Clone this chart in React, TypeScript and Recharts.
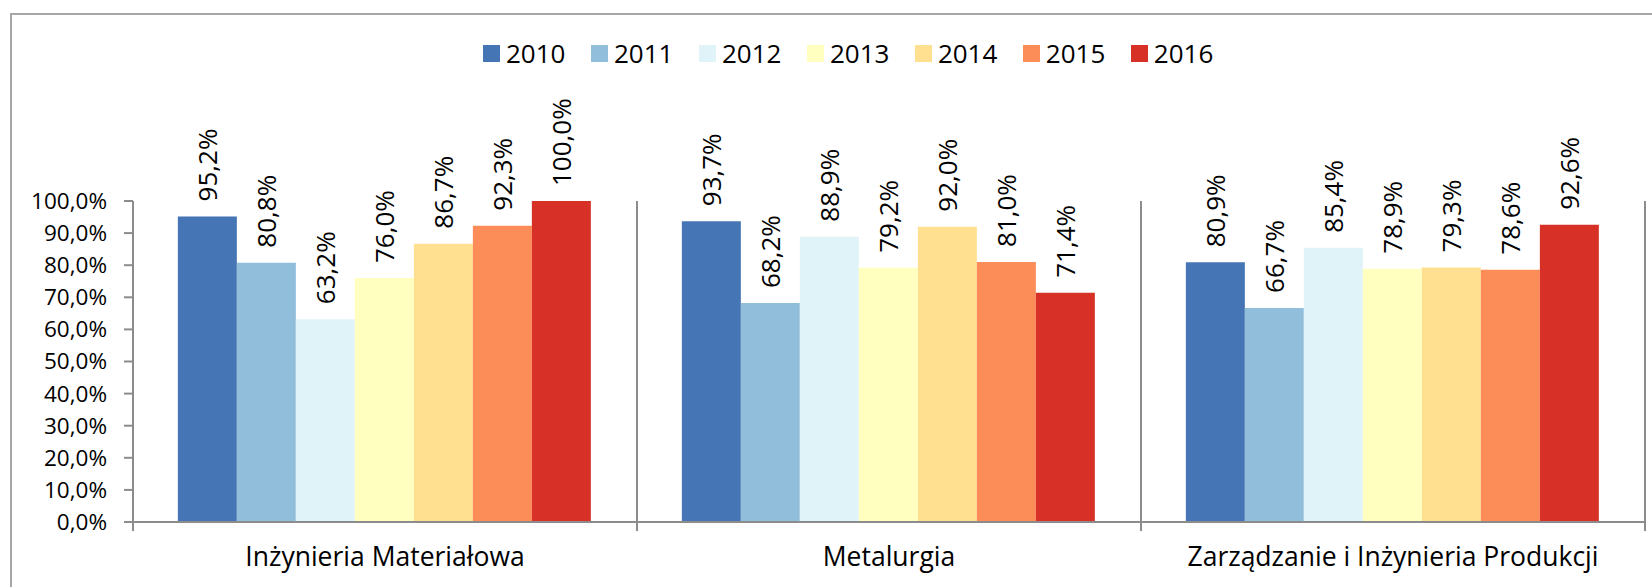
import React from 'react';
import { BarChart, Bar, XAxis, YAxis, CartesianGrid, LabelList } from 'recharts';

const categories = ['Inżynieria Materiałowa', 'Metalurgia', 'Zarządzanie i Inżynieria Produkcji'];
const years = ['2010', '2011', '2012', '2013', '2014', '2015', '2016'];
const colors = ['#4575b4', '#91bfdb', '#e0f3f8', '#ffffbf', '#fee090', '#fc8d59', '#d73027'];

// values per year, one entry per category (percent)
const s2010 = [95.2, 93.7, 80.9];
const s2011 = [80.8, 68.2, 66.7];
const s2012 = [63.2, 88.9, 85.4];
const s2013 = [76.0, 79.2, 78.9];
const s2014 = [86.7, 92.0, 79.3];
const s2015 = [92.3, 81.0, 78.6];
const s2016 = [100.0, 71.4, 92.6];
const series = [s2010, s2011, s2012, s2013, s2014, s2015, s2016];

const yTicks = [0, 10, 20, 30, 40, 50, 60, 70, 80, 90, 100];

const data = categories.map((name, i) => {
  const row: Record<string, string | number> = { name };
  years.forEach((y, j) => {
    row[y] = series[j][i];
  });
  return row;
});

const FONT = '"Open Sans", sans-serif';
const AXIS = '#8c8c8c';
const TICK = 9;

const pct = (v: number) => `${v.toFixed(1).replace('.', ',')}%`;

function CategoryTick(props: any) {
  const { x, y, payload, index, visibleTicksCount } = props;
  const half = payload?.offset ?? 252;
  const axisY = y - TICK;
  return (
    <g>
      <line x1={x - half} x2={x - half} y1={axisY} y2={y} stroke={AXIS} strokeWidth={2} />
      {index === visibleTicksCount - 1 && (
        <line x1={x + half} x2={x + half} y1={axisY} y2={y} stroke={AXIS} strokeWidth={2} />
      )}
      <text x={x} y={y + 35} textAnchor="middle" fill="#000" fontSize={26.5} fontFamily={FONT}>
        {payload.value}
      </text>
    </g>
  );
}

function RotatedLabel(props: any) {
  const { x, y, width, value } = props;
  const cx = x + width / 2;
  return (
    <text
      transform={`translate(${cx}, ${y - 15}) rotate(-90)`}
      dy="0.36em"
      textAnchor="start"
      fill="#000"
      fontSize={26}
      fontFamily={FONT}
    >
      {pct(value)}
    </text>
  );
}

export default function App() {
  return (
    <div
      style={{
        position: 'fixed',
        left: 0,
        top: 0,
        width: 1652,
        height: 587,
        overflow: 'hidden',
        background: '#fff',
        fontFamily: FONT,
      }}
    >
      <div
        style={{
          position: 'absolute',
          left: 10,
          top: 13,
          width: 1700,
          height: 700,
          border: '2px solid #a6a6a6',
        }}
      />

      {/* Legend */}
      <div style={{ position: 'absolute', left: 483, top: 40, display: 'flex', alignItems: 'center' }}>
        {years.map((y, i) => (
          <div key={y} style={{ display: 'flex', alignItems: 'center', marginRight: 25.5 }}>
            <div style={{ width: 17, height: 17, background: colors[i], marginRight: 6 }} />
            <span style={{ fontSize: 26, lineHeight: '26px', color: '#000' }}>{y}</span>
          </div>
        ))}
      </div>

      <div style={{ position: 'absolute', left: 0, top: 0 }}>
        <BarChart
          width={1652}
          height={587}
          data={data}
          margin={{ top: 201, right: 7, bottom: 15, left: 8 }}
          barCategoryGap="8.9%"
          barGap={0}
        >
          <CartesianGrid
            horizontal={false}
            stroke={AXIS}
            strokeWidth={2}
            verticalCoordinatesGenerator={({ offset }: any) => [
              offset.left + offset.width / 3,
              offset.left + (2 * offset.width) / 3,
              offset.left + offset.width,
            ]}
          />
          <XAxis
            dataKey="name"
            interval={0}
            height={50}
            tickLine={false}
            tickSize={TICK}
            tickMargin={0}
            axisLine={{ stroke: AXIS, strokeWidth: 2 }}
            tick={<CategoryTick />}
          />
          <YAxis
            width={125}
            domain={[0, 100]}
            ticks={yTicks}
            interval={0}
            tickSize={TICK}
            tickMargin={17}
            tickFormatter={pct}
            axisLine={{ stroke: AXIS, strokeWidth: 2 }}
            tickLine={{ stroke: AXIS, strokeWidth: 2 }}
            tick={{ fill: '#000', fontSize: 22.5, fontFamily: FONT }}
          />
          {years.map((y, i) => (
            <Bar key={y} dataKey={y} fill={colors[i]} isAnimationActive={false}>
              <LabelList dataKey={y} content={<RotatedLabel />} />
            </Bar>
          ))}
        </BarChart>
      </div>
    </div>
  );
}
